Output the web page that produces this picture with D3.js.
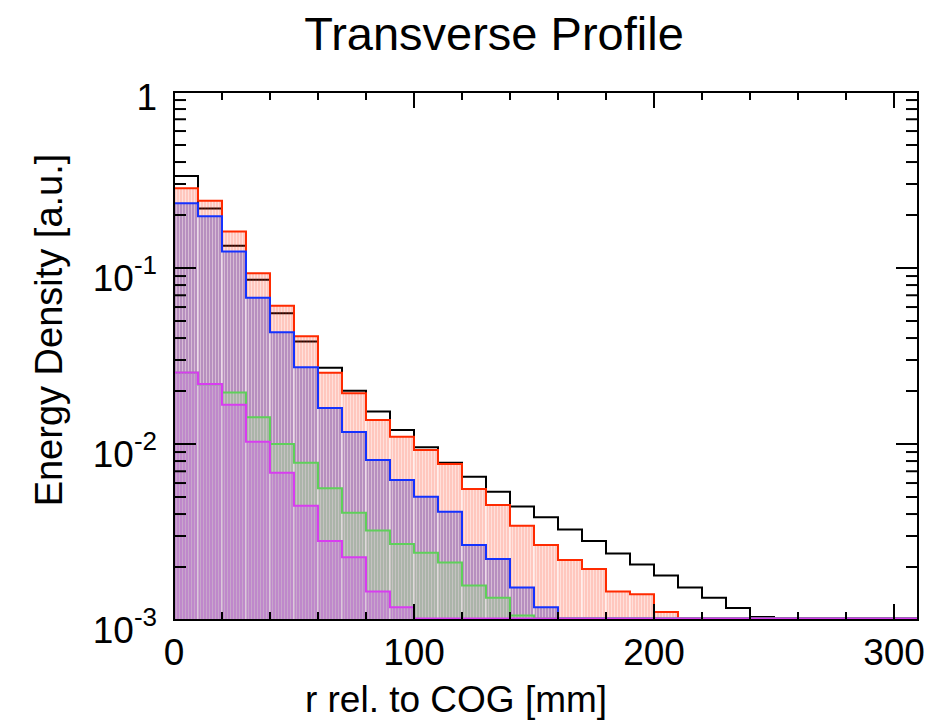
<!DOCTYPE html>
<html>
<head>
<meta charset="utf-8">
<script src="https://cdn.jsdelivr.net/npm/d3@7/dist/d3.min.js"></script>
<style>
body { margin: 0; background: #fff; }
text { font-family: "Liberation Sans", Arial, Helvetica, sans-serif; fill: #000; }
</style>
</head>
<body>
<div id="chart"></div>
<script>
// bins of 10 mm, lower edges
var binLow = [0, 10, 20, 30, 40, 50, 60, 70, 80, 90, 100, 110, 120, 130, 140, 150,
              160, 170, 180, 190, 200, 210, 220, 230, 240, 250, 260, 270, 280, 290, 300];
var binWidth = 10;

// energy density per bin (0 = below the axis minimum)
var blackVals = [0.333, 0.218, 0.134, 0.0858, 0.0553, 0.0382, 0.0271, 0.0201, 0.0153, 0.0120,
                 0.00957, 0.00783, 0.00652, 0.00536, 0.00441, 0.00383, 0.00327, 0.00281, 0.00239, 0.00207,
                 0.00179, 0.00153, 0.00134, 0.00117, 0.00104, 0, 0, 0, 0, 0, 0];
var redVals = [0.284, 0.241, 0.161, 0.0933, 0.0611, 0.0409, 0.0254, 0.0194, 0.0137, 0.0110,
               0.00925, 0.0077, 0.00555, 0.0045, 0.00343, 0.00267, 0.00219, 0.00195, 0.00145, 0.0014,
               0.00111, 0, 0, 0, 0, 0, 0, 0, 0, 0, 0];
var blueVals = [0.233, 0.197, 0.124, 0.0678, 0.0431, 0.0273, 0.0160, 0.0117, 0.00811, 0.00624,
                0.00502, 0.00412, 0.00267, 0.00222, 0.00153, 0.00118, 0, 0, 0, 0,
                0, 0, 0, 0, 0, 0, 0, 0, 0, 0, 0];
var greenVals = [0.0254, 0.0218, 0.0196, 0.0142, 0.0100, 0.00783, 0.0056, 0.00407, 0.00322, 0.0027,
                 0.00241, 0.00212, 0.00157, 0.00134, 0.00106, 0, 0, 0, 0, 0,
                 0, 0, 0, 0, 0, 0, 0, 0, 0, 0, 0];
var magentaVals = [0.0255, 0.0219, 0.0167, 0.0103, 0.00687, 0.00446, 0.00281, 0.00227, 0.00145, 0.00118,
                   0, 0, 0, 0, 0, 0, 0, 0, 0, 0,
                   0, 0, 0, 0, 0, 0, 0, 0, 0, 0, 0];

var xMajor = [0, 100, 200, 300],
    xMinor = [20, 40, 60, 80, 120, 140, 160, 180, 220, 240, 260, 280],
    yMajor = [1e-3, 1e-2, 1e-1, 1],
    yExp = [-3, -2, -1, 0];

var width = 938, height = 728;
var padLeft = 174, padRight = 918, padTop = 92, padBottom = 620;

var svg = d3.select("#chart").append("svg")
    .attr("width", width)
    .attr("height", height);

var x = d3.scaleLinear().domain([0, 310]).range([padLeft, padRight]);
var y = d3.scaleLog().domain([1e-3, 1]).range([padBottom, padTop]);

var defs = svg.append("defs");

function addPattern(id, color, op) {
    var p = defs.append("pattern")
        .attr("id", id)
        .attr("patternUnits", "userSpaceOnUse")
        .attr("width", 3)
        .attr("height", 8);
    p.append("rect").attr("width", 2).attr("height", 8)
        .attr("fill", color).attr("fill-opacity", op);
    p.append("rect").attr("x", 2).attr("width", 1).attr("height", 8)
        .attr("fill", color).attr("fill-opacity", op * 0.55);
}

// drawn in this order, each one fill then outline
var hists = [
    {name: "black", vals: blackVals, stroke: "#000000", fill: null},
    {name: "red", vals: redVals, stroke: "#ff2a00", fill: "#ff3010", op: 0.27},
    {name: "blue", vals: blueVals, stroke: "#1432ff", fill: "#4a3cc0", op: 0.40},
    {name: "green", vals: greenVals, stroke: "#5fd05a", fill: "#a0d296", op: 0.55},
    {name: "magenta", vals: magentaVals, stroke: "#d83cf0", fill: "#cc6ee0", op: 0.62}
];

hists.forEach(function (h) {
    if (h.fill) addPattern("pat_" + h.name, h.fill, h.op);
});

function yClamp(v) {
    if (v <= 1e-3) return padBottom - 1.5;
    return y(v);
}

var line = d3.line()
    .x(function (d) { return d[0]; })
    .y(function (d) { return d[1]; });

var plot = svg.append("g");

hists.forEach(function (h) {
    var g = plot.append("g").attr("class", "hist_" + h.name);

    if (h.fill) {
        var bins = [];
        binLow.forEach(function (lo, i) {
            if (h.vals[i] > 0) bins.push({lo: lo, v: h.vals[i]});
        });
        g.selectAll("rect")
            .data(bins)
            .enter().append("rect")
            .attr("x", function (d) { return x(d.lo) + 0.5; })
            .attr("width", function (d) { return x(d.lo + binWidth) - x(d.lo) - 1; })
            .attr("y", function (d) { return y(d.v); })
            .attr("height", function (d) { return padBottom - y(d.v); })
            .attr("fill", "url(#pat_" + h.name + ")");
    }

    var pts = [];
    binLow.forEach(function (lo, i) {
        pts.push([x(lo), yClamp(h.vals[i])]);
        pts.push([x(lo + binWidth), yClamp(h.vals[i])]);
    });
    g.append("path")
        .attr("d", line(pts))
        .attr("fill", "none")
        .attr("stroke", h.stroke)
        .attr("stroke-width", 2);
});

// ticks on all four sides, pointing inward
var axes = svg.append("g").attr("stroke", "#000").attr("stroke-width", 2);

xMajor.forEach(function (v) {
    axes.append("line").attr("x1", x(v)).attr("x2", x(v)).attr("y1", padBottom).attr("y2", padBottom - 16);
    axes.append("line").attr("x1", x(v)).attr("x2", x(v)).attr("y1", padTop).attr("y2", padTop + 16);
});
xMinor.forEach(function (v) {
    axes.append("line").attr("x1", x(v)).attr("x2", x(v)).attr("y1", padBottom).attr("y2", padBottom - 8);
    axes.append("line").attr("x1", x(v)).attr("x2", x(v)).attr("y1", padTop).attr("y2", padTop + 8);
});

yMajor.forEach(function (v) {
    axes.append("line").attr("x1", padLeft).attr("x2", padLeft + 22).attr("y1", y(v)).attr("y2", y(v));
    axes.append("line").attr("x1", padRight).attr("x2", padRight - 22).attr("y1", y(v)).attr("y2", y(v));
});
yMajor.slice(0, 3).forEach(function (d) {
    [2, 3, 4, 5, 6, 7, 8, 9].forEach(function (k) {
        var v = d * k;
        axes.append("line").attr("x1", padLeft).attr("x2", padLeft + 12).attr("y1", y(v)).attr("y2", y(v));
        axes.append("line").attr("x1", padRight).attr("x2", padRight - 12).attr("y1", y(v)).attr("y2", y(v));
    });
});

// frame
svg.append("rect")
    .attr("x", padLeft).attr("y", padTop)
    .attr("width", padRight - padLeft).attr("height", padBottom - padTop)
    .attr("fill", "none").attr("stroke", "#000").attr("stroke-width", 2);

// x tick labels
svg.append("g").selectAll("text")
    .data(xMajor)
    .enter().append("text")
    .attr("x", function (d) { return x(d); })
    .attr("y", 665)
    .attr("text-anchor", "middle")
    .style("font-size", "37px")
    .text(function (d) { return d; });

// y tick labels
yMajor.forEach(function (v, i) {
    var t = svg.append("text")
        .attr("x", padLeft - 17)
        .attr("text-anchor", "end")
        .style("font-size", "37px");
    if (yExp[i] == 0) {
        t.attr("y", y(v) + 18).text("1");
    } else {
        t.attr("y", y(v) + 23);
        t.append("tspan").text("10");
        t.append("tspan").attr("dy", -17).style("font-size", "26px").text(yExp[i]);
    }
});

// titles
svg.append("text")
    .attr("x", 494).attr("y", 50)
    .attr("text-anchor", "middle")
    .style("font-size", "47px")
    .text("Transverse Profile");

svg.append("text")
    .attr("x", 456).attr("y", 712)
    .attr("text-anchor", "middle")
    .style("font-size", "37px")
    .text("r rel. to COG [mm]");

svg.append("text")
    .attr("transform", "translate(62,330) rotate(-90)")
    .attr("text-anchor", "middle")
    .style("font-size", "38px")
    .text("Energy Density [a.u.]");
</script>
</body>
</html>
